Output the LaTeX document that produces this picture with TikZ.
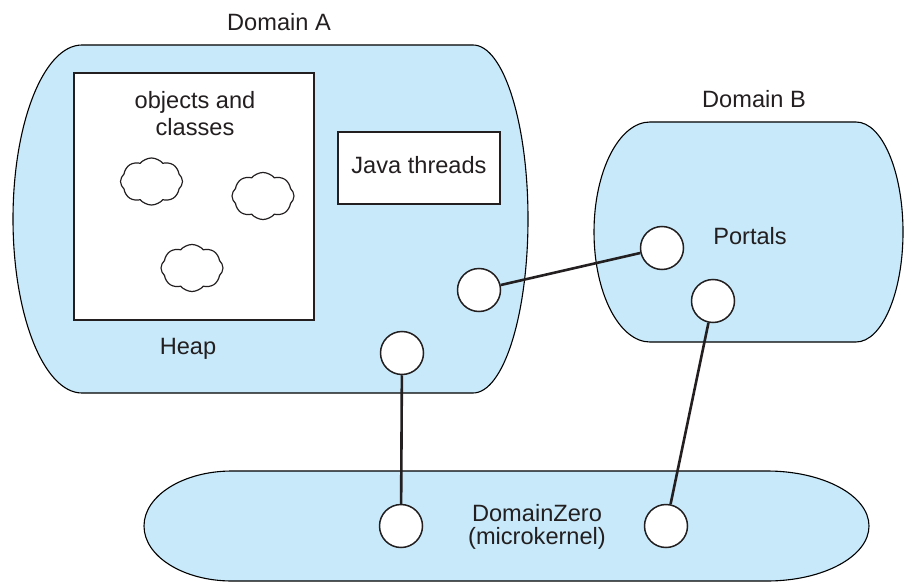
\documentclass[tikz,border=0pt]{standalone}
\usepackage{fontspec}
\setmainfont{Liberation Sans}
\usetikzlibrary{shapes.symbols}
\definecolor{dfill}{RGB}{199,233,249}
\definecolor{txt}{RGB}{35,31,32}
\tikzset{
  dshape/.style={draw=black, fill=dfill, line width=1.1pt},
  boxshape/.style={draw=txt, fill=white, line width=1.2pt},
  port/.style={circle, draw=txt, fill=white, line width=1.5pt, minimum size=43pt, inner sep=0pt},
  blob/.style={cloud, draw=txt, fill=white, line width=1.2pt, cloud puffs=8, cloud puff arc=100, aspect=1.3, minimum width=62pt, minimum height=47pt, inner sep=0pt},
  lbl/.style={text=txt, font=\fontsize{23.6}{27}\selectfont, inner sep=0pt, align=center},
  link/.style={draw=txt, line width=2.6pt}
}
\begin{document}
\begin{tikzpicture}[x=1pt,y=1pt]
\useasboundingbox (0,0) rectangle (904,582);
% Domain A
\path[dshape] (82,537) -- (473,537) arc[start angle=90,end angle=-90,x radius=55pt,y radius=174pt] -- (82,189) arc[start angle=270,end angle=90,x radius=69pt,y radius=174pt] -- cycle;
% Domain B
\path[dshape] (650,460) -- (856,460) arc[start angle=90,end angle=-90,x radius=47pt,y radius=110pt] -- (650,240) arc[start angle=270,end angle=90,x radius=56pt,y radius=110pt] -- cycle;
% DomainZero
\path[dshape] (232,111) -- (767,111) arc[start angle=90,end angle=-90,x radius=102pt,y radius=55pt] -- (232,1) arc[start angle=270,end angle=90,x radius=88pt,y radius=55pt] -- cycle;

% Heap box and Java threads box
\draw[boxshape] (74,262) rectangle (314,509);
\draw[boxshape] (338,378) rectangle (500,450);

% labels
\node[lbl] (la) at (279,560) {Domain A};
\node[lbl] (lb) at (754,483) {Domain B};
\node[lbl] (oc) at (195,468) {objects and\\classes};
\node[lbl] (jt) at (419,417) {Java threads};
\node[lbl] (hp) at (188,233) {Heap};
\node[lbl] (pt) at (750,346) {Portals};
\node[lbl, font=\fontsize{23.6}{23}\selectfont] (dz) at (537,55) {DomainZero\\(microkernel)};

% clouds
\node[blob] (c1) at (151.5,400.5) {};
\node[blob] (c2) at (263,386) {};
\node[blob] (c3) at (192,314) {};

% ports
\node[port] (a1) at (479,292) {};
\node[port] (a2) at (402,229) {};
\node[port] (b1) at (662,334) {};
\node[port] (b2) at (713,281) {};
\node[port] (z1) at (401,56) {};
\node[port] (z2) at (666,56) {};

% connectors
\draw[link] (a1) -- (b1);
\draw[link] (a2) -- (z1);
\draw[link] (b2) -- (z2);
\end{tikzpicture}
\end{document}
